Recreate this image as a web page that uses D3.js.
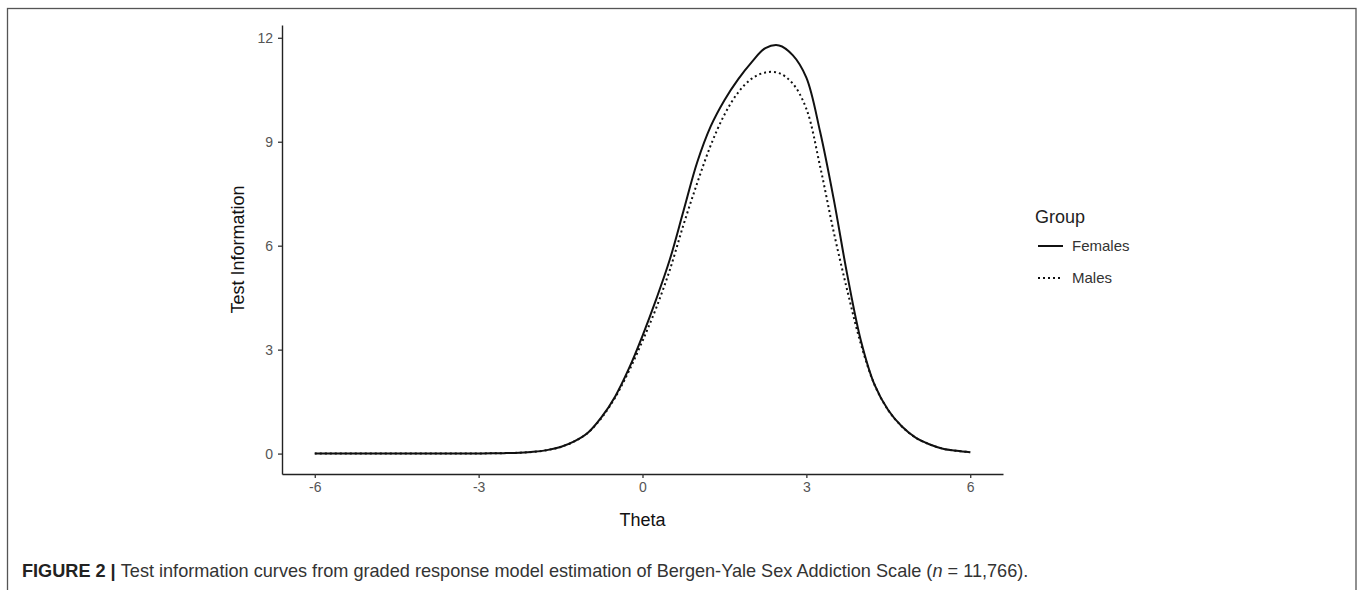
<!DOCTYPE html>
<html>
<head>
<meta charset="utf-8">
<script src="https://cdn.jsdelivr.net/npm/d3@7"></script>
<style>
  html, body { margin: 0; padding: 0; background: #fff; }
  svg { display: block; font-family: "Liberation Sans", Arial, Helvetica, sans-serif; }
</style>
</head>
<body>
<svg id="chart" width="1357" height="590"></svg>
<script>
// ---- data ----
const theta = [-6, -5.75, -5.5, -5.25, -5, -4.75, -4.5, -4.25, -4, -3.75, -3.5, -3.25, -3,
  -2.75, -2.5, -2.25, -2, -1.75, -1.5, -1.25, -1, -0.75, -0.5, -0.25, 0,
  0.25, 0.5, 0.75, 1, 1.25, 1.5, 1.75, 2, 2.25, 2.5, 2.75, 3,
  3.25, 3.5, 3.75, 4, 4.25, 4.5, 4.75, 5, 5.25, 5.5, 5.75, 6];
const females = [0, 0, 0, 0, 0, 0, 0, 0, 0.001, 0.001, 0.002, 0.003, 0.005,
  0.008, 0.014, 0.026, 0.05, 0.1, 0.19, 0.35, 0.6, 1.05, 1.65, 2.45, 3.4,
  4.45, 5.6, 7.0, 8.4, 9.45, 10.2, 10.8, 11.3, 11.7, 11.78, 11.5, 10.85,
  9.3, 7.35, 5.15, 3.25, 1.98, 1.25, 0.78, 0.46, 0.27, 0.14, 0.08, 0.04];
const males = [0, 0, 0, 0, 0, 0, 0, 0, 0.001, 0.001, 0.002, 0.003, 0.005,
  0.008, 0.014, 0.026, 0.05, 0.1, 0.19, 0.35, 0.6, 1.03, 1.62, 2.38, 3.25,
  4.2, 5.3, 6.6, 7.8, 8.9, 9.78, 10.42, 10.82, 11.0, 10.98, 10.68, 9.95,
  8.3, 6.4, 4.7, 3.15, 1.98, 1.25, 0.78, 0.46, 0.27, 0.14, 0.08, 0.04];
const groups = ["Females", "Males"];
const xTicks = [-6, -3, 0, 3, 6];
const yTicks = [0, 3, 6, 9, 12];
const xTitle = "Theta";
const yTitle = "Test Information";
const legendTitle = "Group";

(function () {
const svg = d3.select("#chart");

// figure frame
svg.append("rect").attr("x", 7.5).attr("y", 8.5).attr("width", 1348.5).attr("height", 640)
  .attr("fill", "none").attr("stroke", "#555").attr("stroke-width", 1.3);

// panel
const pLeft = 282, pRight = 1003, pTop = 25, pBottom = 474;
const xExt = d3.extent(theta);
const xPad = (xExt[1] - xExt[0]) * 0.05;
const yMax = d3.max(females.concat(males));
const yPad = yMax * 0.05;
const x = d3.scaleLinear().domain([xExt[0] - xPad, xExt[1] + xPad]).range([pLeft, pRight]);
const y = d3.scaleLinear().domain([0 - yPad, yMax + yPad]).range([pBottom, pTop]);

// axes
const fmt = d => String(d);
const xAxis = svg.append("g").attr("transform", `translate(0,${pBottom})`)
  .call(d3.axisBottom(x).tickValues(xTicks).tickFormat(fmt).tickSize(4).tickPadding(4).tickSizeOuter(0));
const yAxis = svg.append("g").attr("transform", `translate(${pLeft},0)`)
  .call(d3.axisLeft(y).tickValues(yTicks).tickFormat(fmt).tickSize(4).tickPadding(5).tickSizeOuter(0));
[xAxis, yAxis].forEach(g => {
  g.select(".domain").attr("stroke", "#222").attr("stroke-width", 1.4);
  g.selectAll(".tick line").attr("stroke", "#333").attr("stroke-width", 1.3);
  g.selectAll(".tick text").attr("fill", "#555").style("font-size", "14px")
    .style("font-family", "'Liberation Sans', Arial, sans-serif");
});

// axis titles
svg.append("text").attr("x", (pLeft + pRight) / 2).attr("y", 526).attr("text-anchor", "middle")
  .style("font-size", "18px").attr("fill", "#111").text(xTitle);
svg.append("text").attr("transform", `translate(244,${(pTop + pBottom) / 2}) rotate(-90)`)
  .attr("text-anchor", "middle").style("font-size", "18px").attr("fill", "#111").text(yTitle);

// lines
const dash = { Females: null, Males: "2,3" };
const series = { Females: females, Males: males };
const line = d3.line().x(d => x(d[0])).y(d => y(d[1])).curve(d3.curveCatmullRom.alpha(0.5));
groups.forEach(gname => {
  const pts = theta.map((t, i) => [t, series[gname][i]]);
  svg.append("path").datum(pts).attr("d", line)
    .attr("fill", "none").attr("stroke", "#111").attr("stroke-width", 2)
    .attr("stroke-dasharray", dash[gname]);
});

// legend
svg.append("text").attr("x", 1035).attr("y", 223).style("font-size", "18px").attr("fill", "#222").text(legendTitle);
const keyY = { Females: 246, Males: 278 };
groups.forEach(gname => {
  svg.append("line").attr("x1", 1038).attr("x2", 1063).attr("y1", keyY[gname]).attr("y2", keyY[gname])
    .attr("stroke", "#111").attr("stroke-width", 2).attr("stroke-dasharray", dash[gname]);
  svg.append("text").attr("x", 1072).attr("y", keyY[gname] + 5).style("font-size", "15px")
    .attr("fill", "#333").text(gname);
});

// caption
const cap = svg.append("text").attr("x", 22).attr("y", 577).style("font-size", "17px").attr("fill", "#333");
cap.append("tspan").style("font-weight", "bold").attr("fill", "#222").text("FIGURE 2 | ");
cap.append("tspan").text("Test information curves from graded response model estimation of Bergen-Yale Sex Addiction Scale (");
cap.append("tspan").style("font-style", "italic").text("n");
cap.append("tspan").text(" = 11,766).");
const w = cap.node().getComputedTextLength();
cap.style("font-size", (17 * 1007 / w).toFixed(2) + "px");
})();
</script>
</body>
</html>
